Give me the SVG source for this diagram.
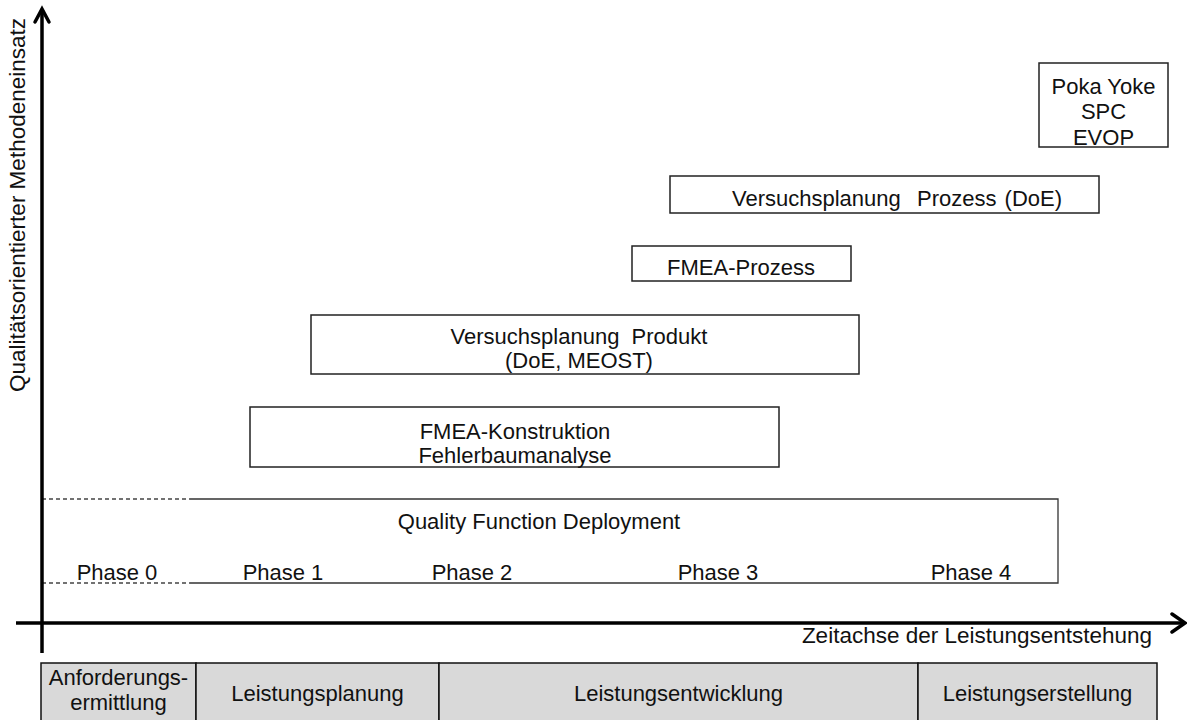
<svg xmlns="http://www.w3.org/2000/svg" width="1187" height="720" viewBox="0 0 1187 720">
  <style>
    text { font-family: "Liberation Sans", Arial, sans-serif; font-size: 22px; fill: #111; }
    .c { text-anchor: middle; }
    .box { fill: #fff; stroke: #222; stroke-width: 1.5; }
    .cell { fill: #d9d9d9; stroke: #111; stroke-width: 1.5; }
    .axis { stroke: #000; stroke-width: 3.5; fill: none; }
    .head { stroke: #000; stroke-width: 3.5; fill: none; stroke-linecap: round; stroke-linejoin: miter; }
    .dash { stroke: #444; stroke-width: 1.3; stroke-dasharray: 4 3; fill: none; }
    .frame { stroke: #333; stroke-width: 1.3; fill: none; }
  </style>
  <rect width="1187" height="720" fill="#fff"/>

  <!-- phase table at the bottom -->
  <g id="table">
    <g id="cell-anforderung">
      <rect class="cell" x="41" y="663" width="155" height="64"/>
      <text class="c" x="118.5" y="685">Anforderungs-</text>
      <text class="c" x="118.5" y="710">ermittlung</text>
    </g>
    <g id="cell-planung">
      <rect class="cell" x="196" y="663" width="243" height="64"/>
      <text class="c" x="317.5" y="701">Leistungsplanung</text>
    </g>
    <g id="cell-entwicklung">
      <rect class="cell" x="439" y="663" width="479" height="64"/>
      <text class="c" x="678.5" y="701">Leistungsentwicklung</text>
    </g>
    <g id="cell-erstellung">
      <rect class="cell" x="918" y="663" width="239" height="64"/>
      <text class="c" x="1037.5" y="701">Leistungserstellung</text>
    </g>
  </g>

  <!-- QFD band with phase labels -->
  <g id="qfd">
    <path class="dash" d="M42 499 H190 M42 583 H190"/>
    <path class="frame" d="M190 499 H1058 V583 H190"/>
    <text class="c" x="539" y="529">Quality Function Deployment</text>
    <text class="c" x="117" y="580">Phase 0</text>
    <text class="c" x="283" y="580">Phase 1</text>
    <text class="c" x="472" y="580">Phase 2</text>
    <text class="c" x="718" y="580">Phase 3</text>
    <text class="c" x="971" y="580">Phase 4</text>
  </g>

  <g id="fmea-konstruktion">
    <rect class="box" x="250" y="407" width="529" height="60"/>
    <text class="c" x="515" y="439">FMEA-Konstruktion</text>
    <text class="c" x="515" y="463">Fehlerbaumanalyse</text>
  </g>

  <g id="versuchsplanung-produkt">
    <rect class="box" x="311" y="315" width="548" height="59"/>
    <text class="c" x="579" y="344" xml:space="preserve">Versuchsplanung  Produkt</text>
    <text class="c" x="579" y="368">(DoE, MEOST)</text>
  </g>

  <g id="fmea-prozess">
    <rect class="box" x="632" y="246" width="219" height="35"/>
    <text class="c" x="741" y="275">FMEA-Prozess</text>
  </g>

  <g id="versuchsplanung-prozess">
    <rect class="box" x="670" y="176" width="429" height="37"/>
    <text class="c" x="897" y="206" word-spacing="2" xml:space="preserve">Versuchsplanung  Prozess (DoE)</text>
  </g>

  <g id="poka-yoke">
    <rect class="box" x="1039" y="63" width="129" height="84"/>
    <text class="c" x="1103.5" y="94">Poka Yoke</text>
    <text class="c" x="1103.5" y="119">SPC</text>
    <text class="c" x="1103.5" y="145">EVOP</text>
  </g>

  <!-- axes -->
  <g id="axes">
    <path class="axis" d="M42 653 V10"/>
    <path class="head" d="M35 22 L42 9 L49 22"/>
    <path class="axis" d="M16 623 H1184"/>
    <path class="head" d="M1172 614 L1185 623 L1172 632"/>
    <text transform="translate(25 205) rotate(-90)" class="c" style="font-size:22.5px">Qualitätsorientierter Methodeneinsatz</text>
    <text class="c" x="977" y="643" style="font-size:22.5px">Zeitachse der Leistungsentstehung</text>
  </g>
</svg>
